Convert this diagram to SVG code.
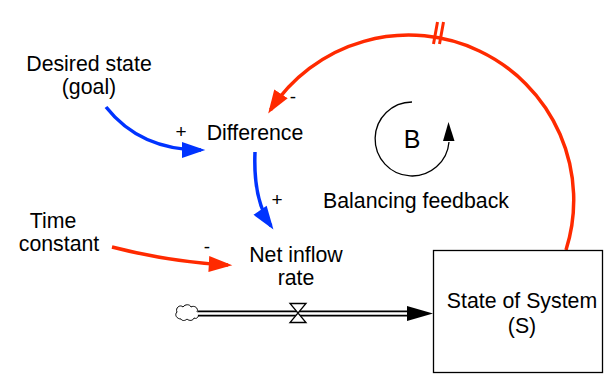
<svg xmlns="http://www.w3.org/2000/svg" width="604" height="374" viewBox="0 0 604 374">
<style>
text{font-family:"Liberation Sans",Arial,sans-serif;font-size:21.3px;fill:#000;text-anchor:middle}
.pol{font-size:19px}
.red{fill:none;stroke:#ff2a00;stroke-width:3.5}
.blue{fill:none;stroke:#0033ff;stroke-width:3.5}
</style>
<defs>
<marker id="ahR" markerUnits="userSpaceOnUse" markerWidth="24" markerHeight="16" refX="18" refY="7.5" orient="auto" viewBox="0 0 22 15">
<path d="M0,0 L22,7.5 L0,15 z" fill="#ff2a00"/>
</marker>
<marker id="ahB" markerUnits="userSpaceOnUse" markerWidth="24" markerHeight="16" refX="18" refY="7.5" orient="auto" viewBox="0 0 22 15">
<path d="M0,0 L22,7.5 L0,15 z" fill="#0033ff"/>
</marker>
</defs>
<rect width="604" height="374" fill="#fff"/>

<g id="connectors">
<path class="red" d="M566,250 A165,165 0 0 0 270.5,110" marker-end="url(#ahR)"/>
<path d="M433.5,44 L437.5,22 M439.5,44 L443.5,22" stroke="#ff2a00" stroke-width="3" fill="none"/>
<path class="blue" d="M106,107 Q140,150 201,150" marker-end="url(#ahB)"/>
<path class="blue" d="M255,152 Q253,200 271,226" marker-end="url(#ahB)"/>
<path class="red" d="M112,247 Q170,262 228,265" marker-end="url(#ahR)"/>
<g id="flow">
<path d="M181,319 c-4,0 -7,-4 -4,-7 c-2,-4 3,-8 6,-5 c2,-3 7,-3 8,0 c3,-2 8,1 6,5 c3,2 1,8 -3,6 c-1,3 -5,3 -7,1 c-2,2 -5,2 -6,0 z" fill="#fff" stroke="#000" stroke-width="1"/>
<line x1="198" y1="313.5" x2="409" y2="313.5" stroke="#000" stroke-width="6"/>
<line x1="197" y1="313.5" x2="407" y2="313.5" stroke="#fff" stroke-width="2.5"/>
<path d="M407,306 L433,313.5 L407,321 z" fill="#000"/>
<path d="M290,303.5 L306,303.5 L290,322.5 L306,322.5 z" fill="#fff" stroke="#000" stroke-width="1.3"/>
</g>
</g>

<g id="goal"><text x="89" y="71">Desired state</text><text x="89" y="94">(goal)</text></g>
<g id="difference"><text x="255" y="140">Difference</text></g>
<g id="time"><text x="53" y="228">Time</text><text x="59" y="251">constant</text></g>
<g id="netinflow"><text x="296" y="262">Net inflow</text><text x="296" y="285">rate</text></g>
<g id="state">
<rect x="433.5" y="250.5" width="169" height="122" fill="#fff" stroke="#000" stroke-width="1.3"/>
<text x="522" y="308">State of System</text><text x="522" y="333">(S)</text>
</g>
<g id="loop">
<path d="M412,102 A37,37 0 1 0 449,142" fill="none" stroke="#000" stroke-width="1.3"/>
<path d="M443,141 L448.5,122 L454.5,141 z" fill="#000"/>
<text x="412" y="148" style="font-size:25px">B</text>
<text x="416" y="208">Balancing feedback</text>
</g>
<g id="polarities">
<text class="pol" x="293" y="103">-</text>
<text class="pol" x="181" y="138">+</text>
<text class="pol" x="277" y="206">+</text>
<text class="pol" x="207" y="253">-</text>
</g>
</svg>
